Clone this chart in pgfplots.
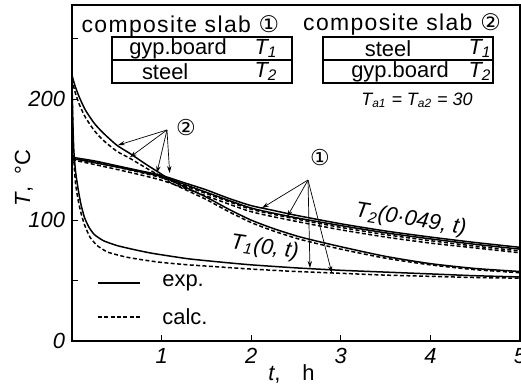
\documentclass[border=0pt]{standalone}
\usepackage{fontspec}
\setmainfont{Liberation Sans}
\newfontfamily\symfont{DejaVu Sans}
\usepackage{pgfplots}
\pgfplotsset{compat=1.18}
\usetikzlibrary{arrows.meta}

% cooling curves, composite slabs 1 and 2 (t in h, T in deg C)
\pgfplotstableread{
t T
0 152
0.25 149
0.5 145
0.75 141
1 137
1.25 131
1.5 125
1.75 118
2 112
2.25 108
2.5 104
3 97
3.5 91
4 86
4.5 81.5
5 77.5
}\slabAtwoexp
\pgfplotstableread{
t T
0 152
0.5 144
1 135
1.5 122
2 109
2.5 101
3 94
3.5 88
4 83
4.5 78.5
5 74.5
}\slabAtwocalc
\pgfplotstableread{
t T
0 151
0.5 144
1 136
1.5 123
2 110
2.5 102
3 95.5
3.5 89.5
4 84.5
4.5 80
5 76
}\slabBtwoexp
\pgfplotstableread{
t T
0 150
0.5 142
1 133
1.5 120
2 107
2.5 99
3 92
3.5 86
4 81
4.5 77
5 73
}\slabBtwocalc
\pgfplotstableread{
t T
0 220
0.03 212
0.08 202
0.15 191
0.25 180
0.35 172
0.5 162
0.65 155
0.83 146
1 138
1.1 133
1.3 126
1.5 119
1.75 109
2 100
2.25 93
2.55 86
3 78
3.5 70
4 64
4.5 60
5 57.5
}\slabBoneexp
\pgfplotstableread{
t T
0 217
0.03 207
0.08 196
0.15 185
0.25 174
0.35 166
0.5 157
0.65 151
0.83 143
1 136
1.1 131
1.3 124
1.5 117
1.75 107
2 98
2.25 91
2.55 84
3 76
3.5 68.5
4 63
4.5 59
5 56.5
}\slabBonecalc
\pgfplotstableread{
t T
0 215
0.01 180
0.02 158
0.04 140
0.07 125
0.1 113
0.14 102
0.19 94
0.25 88
0.35 83
0.5 79
0.7 75.5
0.9 72.5
1.3 68
1.7 65
2 63
2.5 60.5
3 58.5
3.5 57
4 55.5
4.5 54
5 53
}\slabAoneexp
\pgfplotstableread{
t T
0 212
0.01 172
0.02 150
0.04 130
0.07 116
0.1 106
0.14 96
0.2 86
0.28 79
0.4 73.5
0.6 69.5
0.8 67
1 65
1.3 63
1.7 61
2 59.5
2.5 57.5
3 56
3.5 54.5
4 53.5
4.5 52.5
5 52
}\slabAonecalc

\begin{document}
\begin{tikzpicture}[font=\fontsize{11}{13}\selectfont,
  exp/.style={line width=0.75pt, black},
  calc/.style={line width=0.75pt, black, dash pattern=on 2pt off 1.2pt},
  pointer/.style={-{Stealth[length=3.5pt,width=2.2pt]}, line width=0.35pt}]
\begin{axis}[
  scale only axis, width=224bp, height=168bp,
  xmin=0, xmax=5, ymin=0, ymax=278,
  clip=false,
  axis line style={line width=0.9pt},
  xtick={1,2,3,4,5}, ytick={0,100,200}, minor ytick={50,150,250},
  tick align=inside, xtick pos=bottom, ytick pos=left,
  major tick length=3bp, minor tick length=3bp,
  every tick/.style={line width=0.6pt, black},
  /pgf/number format/assume math mode=true,
  ticklabel style={font=\fontsize{11}{13}\selectfont\itshape},
]
\coordinate (sw) at (rel axis cs:0,0);
\coordinate (ne) at (rel axis cs:1,1);

\addplot[exp, smooth, tension=0.4] table {\slabAtwoexp};
\addplot[calc, smooth, tension=0.4] table {\slabAtwocalc};
\addplot[exp, smooth, tension=0.4] table {\slabBtwoexp};
\addplot[calc, smooth, tension=0.4] table {\slabBtwocalc};
\addplot[exp, smooth, tension=0.4] table {\slabBoneexp};
\addplot[calc, smooth, tension=0.4] table {\slabBonecalc};
\addplot[exp, smooth, tension=0.3] table {\slabAoneexp};
\addplot[calc, smooth, tension=0.3] table {\slabAonecalc};

% slab legends
\node[font=\fontsize{11.5}{13}\selectfont\addfontfeature{LetterSpace=6}] at (axis cs:1.21,260)
  {composite slab {\symfont ①}};
\node[font=\fontsize{11.5}{13}\selectfont\addfontfeature{LetterSpace=6}] at (axis cs:3.683,262)
  {composite slab {\symfont ②}};
\draw[line width=0.6pt] (axis cs:0.446,251.5) rectangle (axis cs:2.455,213.5);
\draw[line width=0.6pt] (axis cs:0.446,232.5) -- (axis cs:2.455,232.5);
\draw[line width=0.6pt] (axis cs:2.801,251.5) rectangle (axis cs:4.699,213.5);
\draw[line width=0.6pt] (axis cs:2.801,232.5) -- (axis cs:4.699,232.5);
\node at (axis cs:1.183,242) {gyp.board};
\node at (axis cs:2.165,242) {\itshape T\textsubscript{1}};
\node at (axis cs:1.04,223) {steel};
\node at (axis cs:2.165,223) {\itshape T\textsubscript{2}};
\node at (axis cs:3.527,242) {steel};
\node at (axis cs:4.554,242) {\itshape T\textsubscript{1}};
\node at (axis cs:3.661,223) {gyp.board};
\node at (axis cs:4.554,223) {\itshape T\textsubscript{2}};
\node[font=\fontsize{9}{11}\selectfont\itshape] at (axis cs:3.85,199)
  {T\textsubscript{a1} = T\textsubscript{a2} = 30};

% curve labels
\node[rotate=-9, font=\fontsize{11}{13}\selectfont\itshape] at (axis cs:3.78,100)
  {T\textsubscript{2}(0·049, t)};
\node[rotate=-8, font=\fontsize{11}{13}\selectfont\itshape] at (axis cs:2.15,77)
  {T\textsubscript{1}(0, t)};

% pointers
\node[font=\symfont\fontsize{11}{13}\selectfont] at (axis cs:1.272,177) {②};
\draw[pointer] (axis cs:1.06,174.6) -- (axis cs:0.512,162);
\draw[pointer] (axis cs:1.06,174.6) -- (axis cs:0.646,152);
\draw[pointer] (axis cs:1.06,174.6) -- (axis cs:0.947,139);
\draw[pointer] (axis cs:1.06,174.6) -- (axis cs:1.09,139);
\node[font=\symfont\fontsize{11}{13}\selectfont] at (axis cs:2.768,151.4) {①};
\draw[pointer] (axis cs:2.634,133.2) -- (axis cs:2.12,110);
\draw[pointer] (axis cs:2.634,133.2) -- (axis cs:2.40,102.6);
\draw[pointer] (axis cs:2.634,133.2) -- (axis cs:2.656,60.4);
\draw[pointer] (axis cs:2.634,133.2) -- (axis cs:2.90,56.3);

% line-style key
\draw[exp] (axis cs:0.29,48) -- (axis cs:0.76,48);
\node[anchor=west] at (axis cs:0.93,48) {exp.};
\draw[calc] (axis cs:0.29,19.9) -- (axis cs:0.76,19.9);
\node[anchor=west] at (axis cs:0.93,19.9) {calc.};

% axis titles
\node[rotate=90] at ([xshift=-24bp]rel axis cs:0,0.485) {{\itshape T},\ \ °C};
\node at ([yshift=-16.5bp]rel axis cs:0.49,0) {{\itshape t},\quad h};
\end{axis}
\pgfresetboundingbox
\path[use as bounding box] ([xshift=-36bp,yshift=-23bp]sw) rectangle ([xshift=0.5bp,yshift=2.5bp]ne);
\end{tikzpicture}
\end{document}
